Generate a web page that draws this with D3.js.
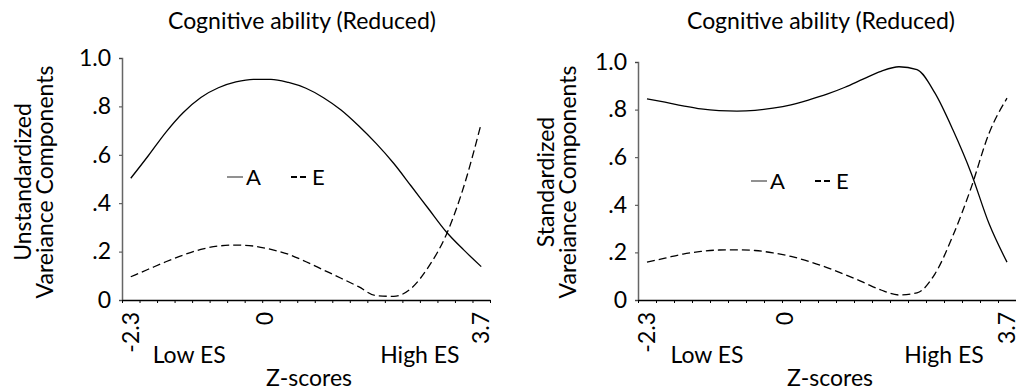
<!DOCTYPE html>
<html>
<head>
<meta charset="utf-8">
<script src="https://cdn.jsdelivr.net/npm/d3@7/dist/d3.min.js"></script>
<style>
  body { margin: 0; background: #fff; }
  text { font-family: Lato, "Open Sans", sans-serif; fill: #000; }
</style>
</head>
<body>
<div id="chart"></div>
<script>
// z-score categories (21 points, step .3)
var zScores = [-2.3, -2.0, -1.7, -1.4, -1.1, -0.8, -0.5, -0.2, 0.1, 0.4, 0.7,
               1.0, 1.3, 1.6, 1.9, 2.2, 2.5, 2.8, 3.1, 3.4, 3.7];

// Unstandardized variance components
var unstdA = [0.503, 0.596, 0.693, 0.775, 0.837, 0.877, 0.901, 0.912, 0.912, 0.899, 0.875,
              0.836, 0.785, 0.720, 0.647, 0.565, 0.471, 0.376, 0.282, 0.207, 0.138];
var unstdE = [0.096, 0.127, 0.158, 0.186, 0.209, 0.223, 0.227, 0.223, 0.209, 0.189, 0.158,
              0.124, 0.090, 0.055, 0.018, 0.015, 0.048, 0.138, 0.269, 0.468, 0.730];

// Standardized variance components
var stdA = [0.845, 0.831, 0.816, 0.803, 0.796, 0.794, 0.797, 0.806, 0.820, 0.841, 0.865,
            0.894, 0.928, 0.961, 0.980, 0.968, 0.869, 0.714, 0.535, 0.321, 0.159];
var stdE = [0.159, 0.176, 0.193, 0.204, 0.210, 0.211, 0.208, 0.198, 0.183, 0.162, 0.136,
            0.107, 0.075, 0.042, 0.021, 0.030, 0.110, 0.271, 0.470, 0.700, 0.848];

var yTicks = [0, 0.2, 0.4, 0.6, 0.8, 1.0];
var yTickLabels = ["0", ".2", ".4", ".6", ".8", "1.0"];
var xTickLabels = [-2.3, 0, 3.7];
var seriesNames = ["A", "E"];

var w = 1016, h = 392;
var fs = "23px";

var svg = d3.select("#chart").append("svg")
    .attr("width", w)
    .attr("height", h);

var panels = [
  { title: "Cognitive ability (Reduced)", ytitle: ["Unstandardized", "Vareiance Components"],
    A: unstdA, E: unstdE, x0: 122, x1: 490, yTop: 58, yBot: 300,
    titleX: 302, ytX: 31, legX: 227, legY: 177 },
  { title: "Cognitive ability (Reduced)", ytitle: ["Standardized", "Vareiance Components"],
    A: stdA, E: stdE, x0: 638, x1: 1016, yTop: 62, yBot: 300,
    titleX: 821, ytX: 554, legX: 751, legY: 181 }
];

panels.forEach(function(p) {
  var xScale = d3.scaleLinear().domain([-2.45, 3.85]).range([p.x0, p.x1]);
  var yScale = d3.scaleLinear().domain([0, 1]).range([p.yBot, p.yTop]);

  var g = svg.append("g");

  // title
  g.append("text")
    .attr("x", p.titleX).attr("y", 29)
    .attr("text-anchor", "middle")
    .style("font-size", fs)
    .text(p.title);

  // y axis title (two lines)
  p.ytitle.forEach(function(t, i) {
    g.append("text")
      .attr("transform", "translate(" + (p.ytX + i * 22) + ",182) rotate(-90)")
      .attr("text-anchor", "middle")
      .style("font-size", fs)
      .text(t);
  });

  // y axis
  var yAxis = d3.axisLeft(yScale)
      .tickValues(yTicks)
      .tickSize(3)
      .tickPadding(8)
      .tickFormat(function(d, i) { return yTickLabels[i]; });
  var ya = g.append("g")
      .attr("transform", "translate(" + p.x0 + ",0)")
      .call(yAxis);
  ya.select(".domain").attr("stroke", "#666").attr("stroke-width", 1.5);
  ya.selectAll(".tick line").attr("stroke", "#444");
  ya.selectAll(".tick text").style("font-size", fs).attr("font-family", null);

  // x axis, ticks between categories
  var xTicks = d3.range(0, 22).map(function(k) { return -2.45 + 0.3 * k; });
  var xAxis = d3.axisBottom(xScale)
      .tickValues(xTicks)
      .tickSize(3)
      .tickSizeOuter(0)
      .tickFormat("");
  var xa = g.append("g")
      .attr("transform", "translate(0," + p.yBot + ")")
      .call(xAxis);
  xa.select(".domain").attr("stroke", "#000").attr("stroke-width", 1.5);

  // rotated x tick labels
  g.selectAll(".zlab")
    .data(xTickLabels)
    .enter().append("text")
    .attr("transform", function(d) {
      return "translate(" + xScale(d) + "," + (p.yBot + 12) + ") rotate(-90)";
    })
    .attr("dy", "0.35em")
    .attr("text-anchor", "end")
    .style("font-size", fs)
    .text(function(d) { return d === 0 ? "0" : String(d); });

  g.append("text")
    .attr("x", xScale(-1.3)).attr("y", 363)
    .attr("text-anchor", "middle")
    .style("font-size", fs)
    .text("Low ES");
  g.append("text")
    .attr("x", xScale(2.65)).attr("y", 363)
    .attr("text-anchor", "middle")
    .style("font-size", fs)
    .text("High ES");
  g.append("text")
    .attr("x", (p.x0 + p.x1) / 2 + 3).attr("y", 386)
    .attr("text-anchor", "middle")
    .style("font-size", fs)
    .text("Z-scores");

  // lines
  var line = d3.line()
      .x(function(d, i) { return xScale(zScores[i]); })
      .y(function(d) { return yScale(d); })
      .curve(d3.curveMonotoneX);

  g.append("path")
    .datum(p.A)
    .attr("d", line)
    .attr("fill", "none")
    .attr("stroke", "#000")
    .attr("stroke-width", 1.3);

  g.append("path")
    .datum(p.E)
    .attr("d", line)
    .attr("fill", "none")
    .attr("stroke", "#000")
    .attr("stroke-width", 1.3)
    .attr("stroke-dasharray", "8,4");

  // legend
  var leg = g.append("g").attr("transform", "translate(" + p.legX + "," + p.legY + ")");
  leg.append("line").attr("x1", 0).attr("x2", 16).attr("y1", 0).attr("y2", 0)
    .attr("stroke", "#555").attr("stroke-width", 1.3);
  leg.append("text").attr("x", 19).attr("y", 8).style("font-size", "22px").text(seriesNames[0]);
  leg.append("line").attr("x1", 64).attr("x2", 81).attr("y1", 0).attr("y2", 0)
    .attr("stroke", "#000").attr("stroke-width", 2).attr("stroke-dasharray", "6,3");
  leg.append("text").attr("x", 85).attr("y", 8).style("font-size", "22px").text(seriesNames[1]);
});
</script>
</body>
</html>
